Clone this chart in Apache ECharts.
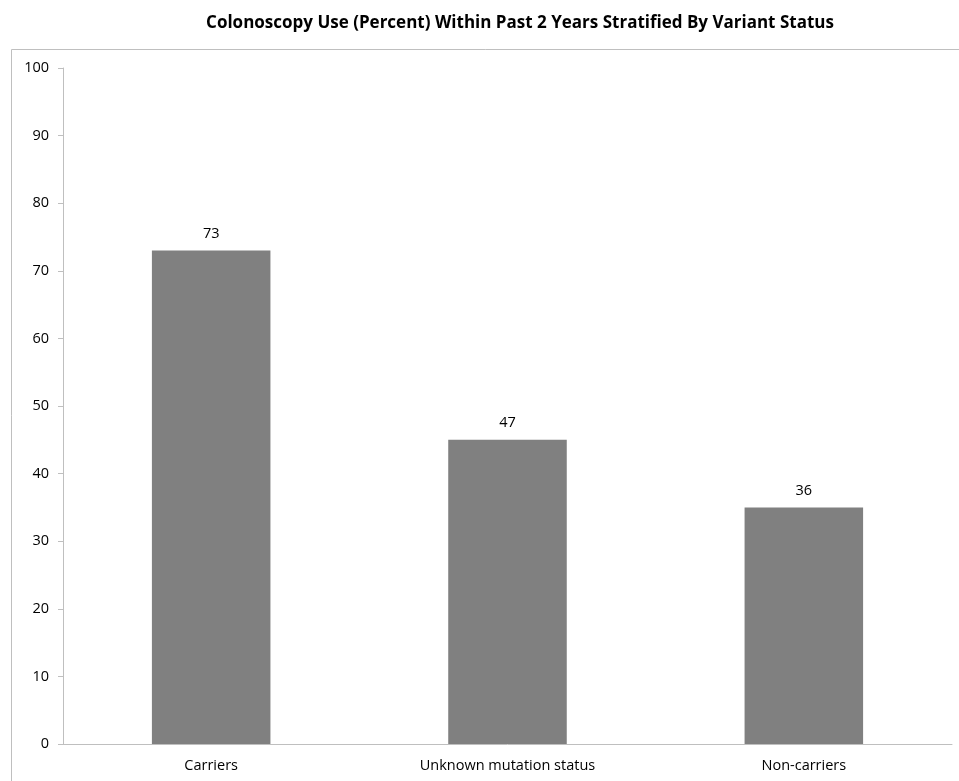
<!DOCTYPE html>
<html>
<head>
<meta charset="utf-8">
<script src="https://cdn.jsdelivr.net/npm/echarts@6/dist/echarts.min.js"></script>
<style>
  html, body { margin: 0; padding: 0; background: #fff; }
  #chart { width: 959px; height: 781px; }
</style>
</head>
<body>
<div id="chart"></div>
<script>
// bar heights as drawn, and the printed labels (they differ slightly in the source)
const categories = ['Carriers', 'Unknown mutation status', 'Non-carriers'];
const barValues = [73, 45, 35];
const labelValues = [73, 47, 36];
const yTicks = { min: 0, max: 100, interval: 10 };

const chart = echarts.init(document.getElementById('chart'));

const font = '"Open Sans", "Noto Sans", sans-serif';

const option = {
  animation: false,
  title: {
    text: 'Colonoscopy Use (Percent) Within Past 2 Years Stratified By Variant Status',
    left: 515,
    textAlign: 'center',
    top: 10,
    textStyle: {
      fontFamily: font,
      fontSize: 17,
      fontWeight: 'bold',
      color: '#000',
    },
  },
  graphic: [
    {
      type: 'rect',
      shape: { x: 11.5, y: 49.5, width: 1000, height: 1000 },
      style: { fill: 'none', stroke: '#bfbfbf', lineWidth: 1 },
      silent: true,
    },
  ],
  grid: {
    left: 63,
    right: 7,
    top: 68,
    bottom: 37,
  },
  xAxis: {
    type: 'category',
    data: categories,
    axisLine: { lineStyle: { color: '#bfbfbf' } },
    axisTick: { show: false },
    axisLabel: {
      color: '#000',
      fontFamily: font,
      fontSize: 14.5,
      margin: 14,
    },
  },
  yAxis: {
    type: 'value',
    min: yTicks.min,
    max: yTicks.max,
    interval: yTicks.interval,
    axisLine: { show: true, lineStyle: { color: '#bfbfbf' } },
    axisTick: { show: true, length: 5, lineStyle: { color: '#bfbfbf' } },
    splitLine: { show: false },
    axisLabel: {
      color: '#000',
      fontFamily: font,
      fontSize: 14.5,
      margin: 14,
    },
  },
  series: [
    {
      type: 'bar',
      data: barValues,
      barWidth: '40%',
      itemStyle: { color: '#808080' },
      label: {
        show: true,
        position: 'top',
        distance: 9,
        color: '#000',
        fontFamily: font,
        fontSize: 14.5,
        formatter: (p) => String(labelValues[p.dataIndex]),
      },
    },
  ],
};

chart.setOption(option);
</script>
</body>
</html>
